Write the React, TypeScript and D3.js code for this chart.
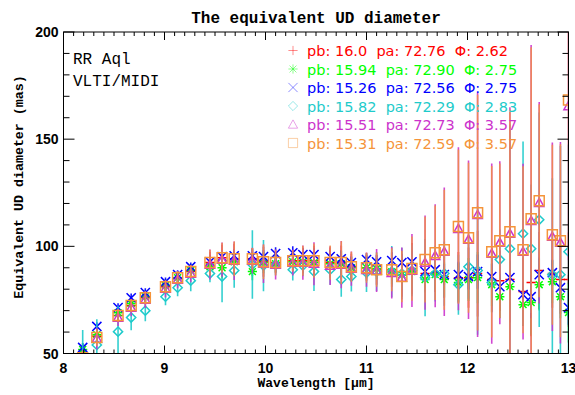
import React from "react";
import * as d3 from "d3";

// Wavelength grid (micron)
const wavelengths = [8.19, 8.33, 8.54, 8.67, 8.81, 9.01, 9.13, 9.26, 9.45, 9.57, 9.69, 9.87, 9.98, 10.1, 10.27, 10.37, 10.48, 10.64, 10.75, 10.85, 11.0, 11.1, 11.25, 11.35, 11.45, 11.58, 11.68, 11.77, 11.91, 12.01, 12.1, 12.24, 12.32, 12.42, 12.55, 12.63, 12.71, 12.84, 12.92, 13.0];

// Equivalent UD diameters (mas) for each baseline setting
const udRed = [48.5, 58, 67.7, 72.4, 76, 81.2, 85.4, 88.2, 92.4, 94.7, 94.2, 94.2, 92.8, 92.4, 93.3, 93.3, 93.3, 92.4, 92.4, 90.5, 90, 89.1, 89.1, 86.5, 89.6, 87.3, 87.7, 85.9, 85.4, 85.4, 87.3, 84.5, 84, 84.5, 78.9, 83.1, 88.7, 87.3, 84.5, 84.5];
const udGreen = [51.9, 58.8, 69, 73.3, 76.5, 81.7, 85.4, 88.7, 90.5, 90, 92.8, 88.2, 92.4, 91.9, 92.8, 92.8, 92.4, 91.9, 91.9, 90, 90, 89.6, 88.2, 86.8, 88.2, 84.5, 86.8, 84.5, 83.1, 84.5, 85.4, 82.1, 76.5, 81.2, 72.8, 73.8, 82.1, 83.5, 76.5, 69.1];
const udBlue = [52.8, 62.6, 71.4, 76, 78.4, 83.5, 86.8, 90.5, 92.8, 95.2, 95.6, 95.6, 95.2, 96.6, 97, 96.1, 96.1, 95.2, 94.2, 92.4, 93.8, 92.8, 93.3, 92.4, 92.8, 88.2, 89.1, 86.8, 86.8, 85.9, 88.2, 85.9, 81.2, 85.4, 77.5, 76.5, 86.8, 87.7, 80.7, 71.4];
const udCyan = [45, 54, 60.2, 66.8, 70, 76.5, 80.7, 84, 87.3, 85.9, 88.7, 91.5, 91, 91.5, 89.1, 91, 88.2, 89.1, 84.5, 85.9, 87.7, 88.2, 88.2, 87.3, 88.7, 85.4, 87.3, 87.3, 82.1, 90.5, 88.7, 83.1, 93.8, 98.9, 105.9, 98.9, 112.4, 86.8, 86.8, 97.5];
const udMagenta = [47.5, 57, 66.8, 71.4, 75.2, 80.3, 84.5, 87.3, 91.5, 93.8, 93.3, 93.3, 91.9, 91.5, 92.4, 92.4, 91.9, 91, 91.5, 89.6, 89.1, 88.7, 87.7, 85.4, 88.7, 92.4, 95.6, 97.5, 108.2, 103.1, 114.7, 96.6, 101.7, 105.9, 97.5, 111.9, 120.3, 104.5, 101.7, 165.5];
const udOrange = [48, 57.5, 67.7, 72.4, 76, 81.2, 85.4, 88.2, 92.4, 94.7, 94.2, 94.2, 92.8, 92.4, 93.3, 93.3, 93.3, 92.4, 92.4, 90.5, 90, 89.1, 89.1, 85.9, 89.6, 93.8, 97, 98.4, 109.2, 104, 115.7, 97.5, 102.6, 106.8, 98.4, 112.9, 121.3, 105.4, 102.6, 168.3];

// 1-sigma uncertainties (mas)
const errRed = [3, 3, 3, 3, 3, 3, 3, 3, 5, 6, 7, 5, 7, 5, 5, 6, 7, 7, 8, 6, 6, 7, 8, 10, 12, 8, 9, 10, 12, 14, 20, 15, 14, 20, 16, 25, 18, 16, 16, 22];
const errGreen = [3, 3, 3, 3, 3, 3, 3, 3, 4, 5, 5, 4, 5, 4, 4, 5, 5, 5, 6, 5, 5, 5, 6, 7, 8, 6, 7, 8, 9, 10, 12, 10, 10, 12, 10, 15, 12, 10, 10, 14];
const errBlue = [2, 2, 2, 2, 2, 2, 2, 2, 3, 3, 3, 3, 3, 3, 3, 3, 3, 3, 4, 3, 3, 3, 4, 4, 5, 4, 5, 5, 6, 6, 8, 6, 6, 8, 6, 10, 8, 6, 6, 8];
const errCyan = [16, 12, 12, 6, 5, 4, 4, 5, 4, 12, 8, 16, 12, 5, 5, 5, 9, 7, 8, 7, 9, 9, 12, 12, 12, 18, 13, 15, 14, 15, 30, 14, 14, 58, 43, 30, 50, 45, 60, 50];
const errMagenta = [4, 5, 4, 4, 4, 4, 4, 4, 7, 8, 9, 6, 9, 7, 6, 8, 10, 9, 11, 8, 8, 10, 12, 14, 17, 22, 24, 30, 38, 37, 57, 42, 38, 59, 41, 82, 47, 44, 47, 72];
const errOrange = [3, 4, 3, 3, 3, 3, 3, 3, 6, 7, 8, 5, 8, 6, 5, 7, 8, 8, 10, 7, 7, 8, 10, 12, 15, 20, 22, 28, 36, 35, 55, 40, 36, 57, 39, 80, 45, 42, 45, 70];

// Fit parameters per baseline
const pbValues = ["16.0", "15.94", "15.26", "15.82", "15.51", "15.31"];
const paValues = ["72.76", "72.90", "72.56", "72.29", "72.73", "72.59"];
const phiValues = ["2.62", "2.75", "2.75", "2.83", "3.57", "3.57"];

const xTicks = [8, 9, 10, 11, 12, 13];
const yTicks = [50, 100, 150, 200];

type Sym = "plus" | "star" | "cross" | "diamond" | "triangle" | "square";

const series = [
  { ud: udRed, err: errRed, color: "#ff0000", sym: "plus" as Sym },
  { ud: udGreen, err: errGreen, color: "#00ff00", sym: "star" as Sym },
  { ud: udBlue, err: errBlue, color: "#0000ff", sym: "cross" as Sym },
  { ud: udCyan, err: errCyan, color: "#1ecbcb", sym: "diamond" as Sym },
  { ud: udMagenta, err: errMagenta, color: "#cc33cc", sym: "triangle" as Sym },
  { ud: udOrange, err: errOrange, color: "#f5943a", sym: "square" as Sym },
];

function symbolPath(sym: Sym, cx: number, cy: number, r: number): string {
  switch (sym) {
    case "plus":
      return `M${cx - r},${cy}H${cx + r}M${cx},${cy - r}V${cy + r}`;
    case "cross":
      return `M${cx - r},${cy - r}L${cx + r},${cy + r}M${cx - r},${cy + r}L${cx + r},${cy - r}`;
    case "star": {
      const d = r * 0.75;
      return `M${cx - r},${cy}H${cx + r}M${cx},${cy - r}V${cy + r}M${cx - d},${cy - d}L${cx + d},${cy + d}M${cx - d},${cy + d}L${cx + d},${cy - d}`;
    }
    case "diamond":
      return `M${cx},${cy - r}L${cx + r},${cy}L${cx},${cy + r}L${cx - r},${cy}Z`;
    case "triangle":
      return `M${cx},${cy - r}L${cx + r},${cy + r * 0.8}L${cx - r},${cy + r * 0.8}Z`;
    case "square":
      return `M${cx - r},${cy - r}H${cx + r}V${cy + r}H${cx - r}Z`;
  }
}

const W = 575;
const H = 395;
const left = 63.5;
const right = 568.5;
const top = 32;
const bottom = 353.5;

export default function App() {
  const x = d3.scaleLinear().domain([8, 13]).range([left, right]);
  const y = d3.scaleLinear().domain([50, 200]).range([bottom, top]);

  const xMinor = d3.range(80, 131).map((v) => v / 10);
  const yMinor = d3.range(50, 201, 10);

  const monoFont = "'Liberation Mono', 'DejaVu Sans Mono', monospace";
  const sansFont = "'DejaVu Sans', sans-serif";
  const tickFont = "'Liberation Sans', Arial, sans-serif";

  return (
    <svg width={W} height={H} style={{ position: "absolute", left: 0, top: 0, background: "#fff" }}>
      <defs>
        <clipPath id="plotClip">
          <rect x={left} y={top} width={right - left} height={bottom - top} />
        </clipPath>
      </defs>

      {/* data: error bars and symbols per series */}
      <g clipPath="url(#plotClip)">
        {series.map((s, si) => (
          <g key={si}>
            {wavelengths.map((w, i) => (
              <line
                key={"e" + i}
                x1={x(w)}
                x2={x(w)}
                y1={y(s.ud[i] - s.err[i])}
                y2={y(s.ud[i] + s.err[i])}
                stroke={s.color}
                strokeWidth={1.6}
                strokeOpacity={si === 5 ? 0.8 : 0.9}
              />
            ))}
            {wavelengths.map((w, i) => (
              <path
                key={"m" + i}
                d={symbolPath(s.sym, x(w), y(s.ud[i]), s.sym === "square" ? 5 : 4.6)}
                fill="none"
                stroke={s.color}
                strokeWidth={1.5}
              />
            ))}
          </g>
        ))}
      </g>

      {/* frame */}
      <rect x={left} y={top} width={right - left} height={bottom - top} fill="none" stroke="#000" strokeWidth={1} />

      {/* x ticks (bottom and top) */}
      {xMinor.map((v, i) => {
        const major = Math.abs(v - Math.round(v)) < 1e-6;
        const len = major ? 8 : 4;
        return (
          <g key={"xt" + i} stroke="#000" strokeWidth={1}>
            <line x1={x(v)} x2={x(v)} y1={bottom} y2={bottom - len} />
            <line x1={x(v)} x2={x(v)} y1={top} y2={top + len} />
          </g>
        );
      })}
      {/* y ticks (left and right) */}
      {yMinor.map((v, i) => {
        const major = v % 50 === 0;
        const len = major ? 11 : 6;
        return (
          <g key={"yt" + i} stroke="#000" strokeWidth={1}>
            <line x1={left} x2={left + len} y1={y(v)} y2={y(v)} />
            <line x1={right} x2={right - len} y1={y(v)} y2={y(v)} />
          </g>
        );
      })}

      {/* tick labels */}
      {xTicks.map((v) => (
        <text key={"xl" + v} x={x(v)} y={373} textAnchor="middle" fontFamily={tickFont} fontWeight="bold" fontSize={14}>
          {v}
        </text>
      ))}
      {yTicks.map((v) => (
        <text key={"yl" + v} x={58.5} y={y(v) + 5} textAnchor="end" fontFamily={tickFont} fontWeight="bold" fontSize={14}>
          {v}
        </text>
      ))}

      {/* titles */}
      <text x={(left + right) / 2} y={23} textAnchor="middle" fontFamily={monoFont} fontWeight="bold" fontSize={16}>
        The equivalent UD diameter
      </text>
      <text x={(left + right) / 2} y={387} textAnchor="middle" fontFamily={monoFont} fontWeight="bold" fontSize={13}>
        Wavelength [μm]
      </text>
      <text
        transform={`translate(23,187) rotate(-90)`}
        textAnchor="middle"
        fontFamily={monoFont}
        fontWeight="bold"
        fontSize={13.3}
      >
        Equivalent UD diameter (mas)
      </text>

      {/* target annotation */}
      <text x={73} y={64} fontFamily={monoFont} fontSize={16}>
        RR Aql
      </text>
      <text x={73} y={86} fontFamily={monoFont} fontSize={16}>
        VLTI/MIDI
      </text>

      {/* legend */}
      {series.map((s, i) => {
        const by = 56 + i * 18.5;
        return (
          <g key={"lg" + i}>
            <path
              d={symbolPath(s.sym, 293, by - 5.5, 4.6)}
              fill="none"
              stroke={s.color}
              strokeWidth={1}
              strokeOpacity={0.45}
            />
            <text x={307} y={by} fill={s.color} fontFamily={sansFont} fontSize={14.5} xmlSpace="preserve" style={{ whiteSpace: "pre" }}>
              {`pb: ${pbValues[i]}  pa: ${paValues[i]}  Φ: ${phiValues[i]}`}
            </text>
          </g>
        );
      })}
    </svg>
  );
}
